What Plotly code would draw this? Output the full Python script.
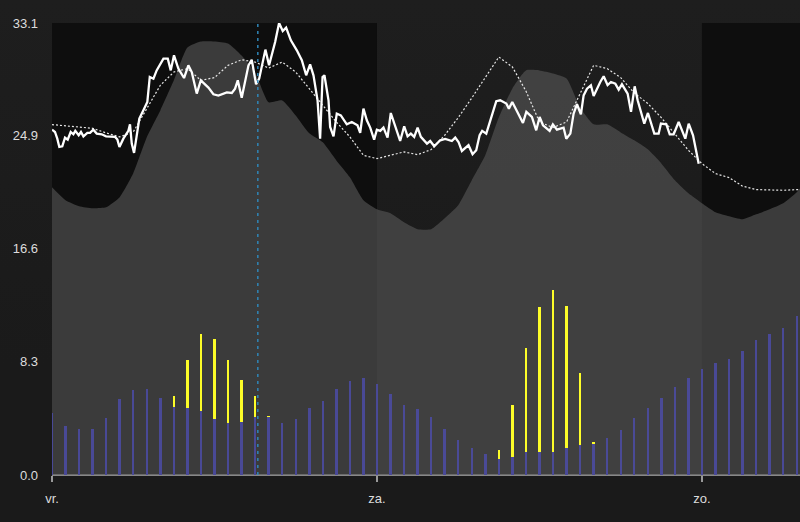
import plotly.graph_objects as go

hours = list(range(56))
curve_hours = list(range(57))
area = [21.07,20.12,19.68,19.53,19.6,20.34,22.09,24.73,26.7,28.9,31.31,31.75,31.75,31.6,30.72,29.48,27.29,27.43,26.33,25.02,
        24.36,23.04,21.8,20.12,19.46,19.17,18.51,18.0,18.0,18.8,19.75,21.58,23.41,26.19,28.31,29.63,29.63,29.41,29.04,26.92,
        25.68,25.68,25.09,24.51,23.85,22.82,21.58,20.63,19.9,19.24,18.95,18.73,19.09,19.46,19.9,20.7,21.95]
base_bars = [4.56,3.61,3.37,3.39,4.2,5.59,6.22,6.32,5.66,5.0,4.93,4.66,4.07,3.83,3.9,4.22,4.24,3.8,4.12,4.9,
             5.44,6.32,6.9,7.07,6.66,5.93,5.1,4.83,4.27,3.37,2.56,1.98,1.54,1.15,1.29,1.71,1.66,1.66,1.95,2.2,
             2.27,2.68,3.27,4.15,4.93,5.66,6.44,7.07,7.76,8.22,8.46,9.1,9.85,10.29,10.73,11.66]
peak_hours = [9,10,11,12,13,14,15,16,33,34,35,36,37,38,39,40]
peak_bars = [5.78,8.41,10.29,9.95,8.41,6.95,5.76,4.34,1.83,5.12,9.27,12.32,13.54,12.39,7.46,2.41]
forecast = [25.66,25.56,25.49,25.39,25.05,24.76,25.12,26.83,28.54,29.51,29.76,28.9,29.1,30.0,30.41,30.24,29.8,30.24,29.51,28.29,
            27.07,25.85,24.76,23.41,23.17,23.41,23.66,23.46,23.83,24.88,26.17,27.61,29.15,30.61,29.88,28.12,25.85,25.44,25.85,27.93,
            30.0,29.76,29.1,27.98,27.2,26.17,25.0,23.78,22.8,22.07,21.78,21.15,20.9,20.85,20.85,20.9,20.95]
obs_hours = [0,0.22,0.39,0.54,0.76,0.96,1.16,1.38,1.58,1.72,1.97,2.14,2.32,2.61,2.81,3.05,3.3,3.67,3.99,4.66,4.83,4.98,5.27,5.64,5.76,5.89,6.06,6.26,6.45,6.75,
             7.04,7.22,7.49,7.73,8.23,8.55,8.77,9.01,9.33,9.75,10.07,10.32,10.69,10.99,11.55,11.92,12.29,12.91,13.28,13.52,13.72,14.01,14.51,14.75,15.07,15.3,15.76,16.03,16.48,16.77,
             17.04,17.29,17.64,18.08,18.45,18.77,19.06,19.31,19.61,19.8,19.98,20.12,20.42,20.54,20.79,21.03,21.33,21.77,22.14,22.56,22.76,23.0,23.25,23.5,23.79,23.99,24.24,24.48,24.78,25.02,25.27,25.59,
             25.71,26.01,26.26,26.5,26.75,27.0,27.24,27.69,27.93,28.23,28.67,29.04,29.53,29.78,30.02,30.27,30.76,31.06,31.33,31.58,31.77,32.07,32.36,32.56,32.81,33.1,33.55,33.74,33.99,34.33,34.78,35.03,35.44,35.76,36.01,36.26,36.75,36.99,37.29,37.78,37.98,38.28,38.52,38.77,39.06,39.26,39.51,39.8,40.0,40.49,40.74,41.03,41.28,41.6,41.85,42.09,42.51,42.76,43.03,43.25,43.74,44.01,44.48,44.8,44.97,45.37,45.62,45.91,46.28,46.77,47.02,47.34,47.51,47.76]
obs_vals = [25.29,25.12,24.63,24.02,24.07,24.71,24.56,25.12,24.95,25.2,24.88,25.12,24.8,25.05,25.05,25.29,25.0,24.95,24.8,24.76,24.56,24.02,24.63,25.2,25.68,24.27,23.59,25.0,26.1,26.71,
            27.32,29.15,29.02,29.63,30.49,30.49,29.63,30.73,29.76,29.07,30.0,29.51,27.93,28.9,28.37,27.88,27.78,28.02,27.98,28.29,28.9,27.63,30.0,30.41,28.61,29.02,31.15,30.0,31.71,33.1,
            32.51,32.76,31.83,31.1,30.37,29.27,30.07,29.27,27.44,24.63,29.15,29.27,27.44,25.49,24.8,26.46,26.34,25.68,25.85,25.61,25.05,26.83,25.98,25.44,24.56,25.29,25.2,25.44,24.71,26.51,25.73,24.76,
            24.46,25.54,24.8,25.0,24.76,25.44,24.76,24.27,24.46,24.07,24.51,24.61,24.46,24.71,24.39,23.73,24.15,23.49,23.78,24.88,25.2,25.0,25.98,26.71,27.37,27.44,27.2,26.83,27.32,26.66,25.78,26.59,26.22,25.24,26.22,25.61,25.2,25.68,25.29,25.44,24.63,25.0,26.46,27.15,26.41,27.8,28.29,28.54,27.76,28.78,29.2,28.56,28.78,28.66,28.22,28.61,27.93,26.59,28.46,27.44,25.73,26.51,25.0,25.0,25.73,25.68,24.95,24.95,25.85,24.63,25.73,24.88,24.02,22.8]
y_ticks = [0.0, 8.3, 16.6, 24.9, 33.1]
y_labels = ["0.0", "8.3", "16.6", "24.9", "33.1"]
day_hours = [0, 24, 48]
day_labels = ["vr.", "za.", "zo."]
night_spans = [(0, 24), (48, 55.24)]
cursor_hour = 15.2
x_end = 55.24
y_top = 33.1

fig = go.Figure()
# The area sits on the primary axes; bars and lines on an overlaid pair so the fill does not veil the bars.
fig.add_trace(go.Scatter(x=curve_hours, y=area, mode="lines", line=dict(width=0, shape="spline", smoothing=0.5), fill="tozeroy",
                         fillcolor="rgba(88,88,88,0.615)", hoverinfo="skip", showlegend=False))
fig.add_trace(go.Bar(x=hours, y=base_bars, width=0.18, xaxis="x2", yaxis="y2", marker=dict(color="rgba(74,74,152,0.99)", line=dict(width=0)),
                     showlegend=False, cliponaxis=False))
fig.add_trace(go.Bar(x=peak_hours, y=[p - base_bars[h] for h, p in zip(peak_hours, peak_bars)], width=0.18, xaxis="x2", yaxis="y2",
                     marker=dict(color="rgba(255,255,40,0.99)", line=dict(width=0)), showlegend=False, cliponaxis=False))
fig.add_trace(go.Scatter(x=curve_hours, y=forecast, mode="lines", xaxis="x2", yaxis="y2",
                         line=dict(color="#e6e6e6", width=1.2, dash="2px,2px"), showlegend=False))
fig.add_trace(go.Scatter(x=obs_hours, y=obs_vals, mode="lines", xaxis="x2", yaxis="y2", line=dict(color="#ffffff", width=2.3),
                         showlegend=False, cliponaxis=False))
fig.add_trace(go.Scatter(x=[cursor_hour, cursor_hour], y=[0, y_top], mode="lines", xaxis="x2", yaxis="y2",
                         line=dict(color="#2f86b8", width=1.5, dash="3px,4px"), showlegend=False))

shapes = [dict(type="rect", xref="x", yref="y", x0=a, x1=b, y0=0, y1=y_top, layer="below",
               fillcolor="#0e0e0e", line=dict(width=0)) for a, b in night_spans]

fig.update_layout(
    width=800, height=522, autosize=False,
    margin=dict(l=52, r=0, t=22.5, b=47, pad=0),
    paper_bgcolor="rgba(0,0,0,0)", plot_bgcolor="rgba(0,0,0,0)",
    barmode="stack", bargap=0, shapes=shapes, showlegend=False,
    font=dict(family="Liberation Sans, Arial, sans-serif", size=13, color="#dddddd"),
    xaxis2=dict(overlaying="x", range=[0, x_end], visible=False),
    yaxis2=dict(overlaying="y", range=[0, y_top], visible=False),
)
fig.update_xaxes(selector=dict(overlaying=None), range=[0, x_end], tickmode="array", tickvals=day_hours, ticktext=day_labels,
                 showgrid=False, zeroline=False, showline=False, ticks="outside", ticklen=6, tickwidth=1.5,
                 tickcolor="#999999", ticklabelstandoff=5)
fig.update_yaxes(selector=dict(overlaying=None), range=[0, y_top], tickmode="array", tickvals=y_ticks, ticktext=y_labels,
                 showgrid=False, zeroline=True, zerolinecolor="#888888", zerolinewidth=2, showline=False,
                 ticks="", ticklabelstandoff=13)
fig.write_html("out.html", config=dict(displayModeBar=False),
               post_script="document.body.style.margin='0';document.documentElement.style.height='100%';"
                           "document.documentElement.style.background='linear-gradient(180deg,#1e1e1e 0%,#1a1a1a 70%)';")
